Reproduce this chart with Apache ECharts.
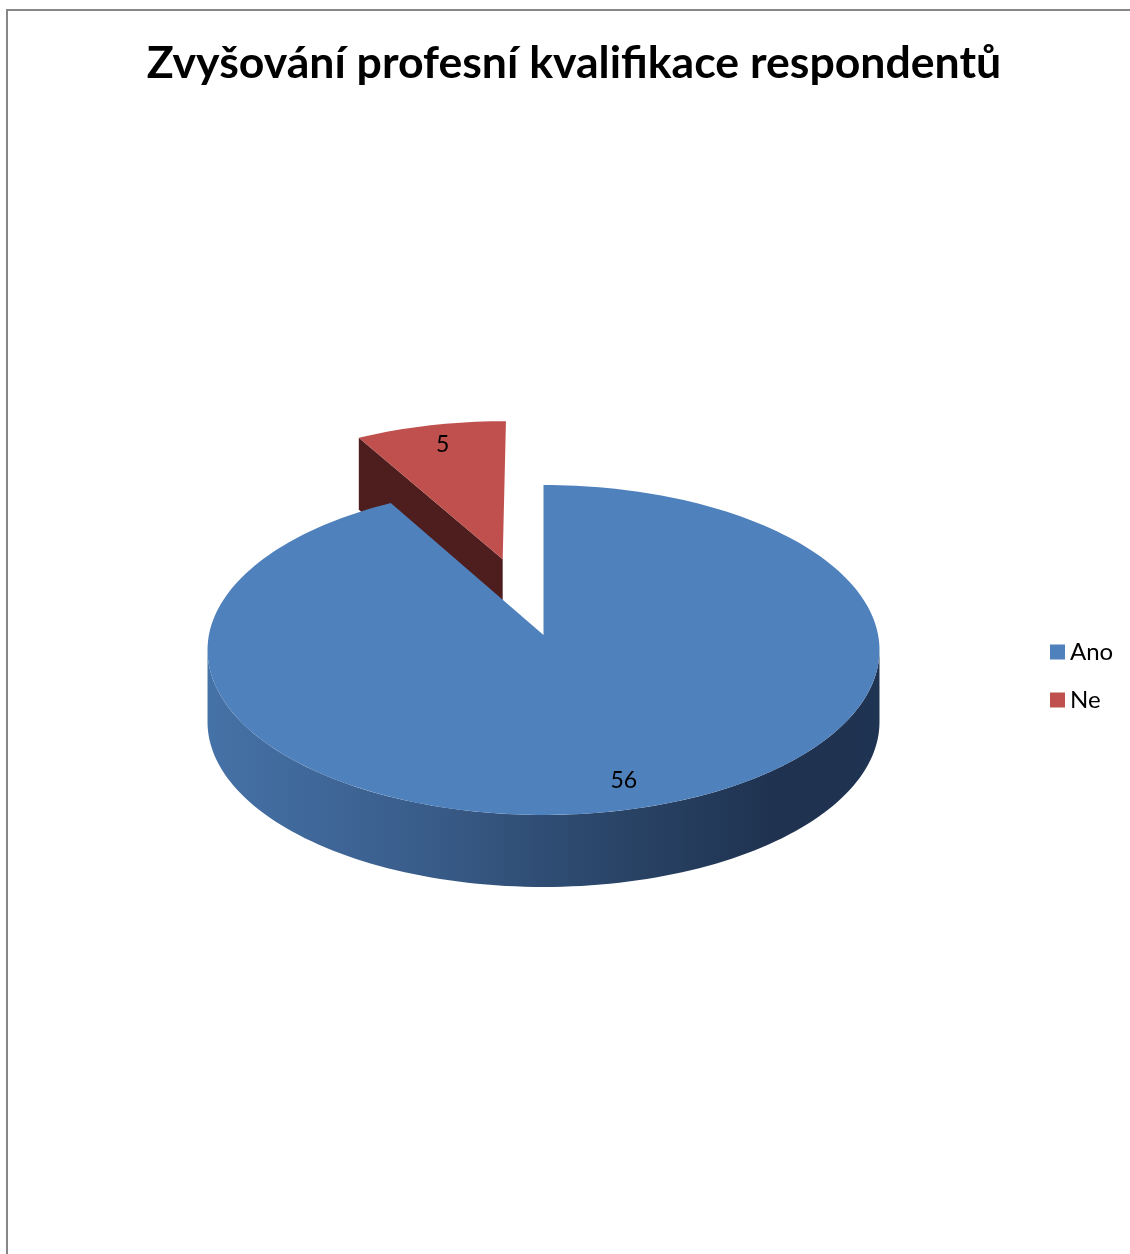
<!DOCTYPE html>
<html>
<head>
<meta charset="utf-8">
<script src="https://cdn.jsdelivr.net/npm/echarts@6/dist/echarts.min.js"></script>
<style>
  html, body { margin: 0; padding: 0; background: #ffffff; }
  #chart { width: 1130px; height: 1254px; }
</style>
</head>
<body>
<div id="chart"></div>
<script>
// Survey answers
const categories = ['Ano', 'Ne'];
const values = [56, 5];

// Appearance
const topColors = ['#4F81BD', '#C0504D'];
const cutColors = ['#24395A', '#4D1E1D'];
const wallStops = [
  [['#4572A7', 0], ['#3A5E8C', 0.3], ['#2A4568', 0.6], ['#1F3250', 0.85], ['#1F3352', 1]],
  [['#A8423F', 0], ['#6E2A28', 1]]
];
const explodeBy = [0, 0.5];      // radial offset, as a fraction of the radius
const labelRadius = 0.85;

// Tilted disk seen in perspective: unit-disk point (u, v) -> screen
const G = { cx: 543.5, cy: 635, A: 334.6, B: 163.6, e: 0.0909, depth: 72 };
const total = values.reduce((a, b) => a + b, 0);

function proj(u, v, dz) {
  const w = 1 - G.e * v;
  return [G.cx + G.A * u / w, G.cy + G.B * v / w + (dz || 0)];
}
// theta in degrees, clockwise from 12 o'clock
function diskPt(theta, r, off) {
  const t = theta * Math.PI / 180;
  return [off[0] + r * Math.sin(t), off[1] - r * Math.cos(t)];
}
function arc(a, b, off, dz) {
  const pts = [];
  const n = Math.max(2, Math.ceil(Math.abs(b - a) / 1.5));
  for (let k = 0; k <= n; k++) {
    const p = diskPt(a + (b - a) * k / n, 1, off);
    pts.push(proj(p[0], p[1], dz));
  }
  return pts;
}

// front silhouette of the cylinder wall
const sideLimit = Math.acos(-G.e) * 180 / Math.PI;   // ~95 deg
const frontFrom = sideLimit, frontTo = 360 - sideLimit;

function makeRender(i) {
  return function (params, api) {
    const val = api.value(0);
    let before = 0;
    for (let k = 0; k < i; k++) before += values[k];
    const start = before / total * 360;
    const end = start + val / total * 360;
    const mid = (start + end) / 2;
    const off = diskPt(mid, explodeBy[i], [0, 0]);
    const apex = proj(off[0], off[1], 0);
    const apexLow = proj(off[0], off[1], G.depth);
    const children = [];

    // cut face at the start edge
    if (Math.sin(start * Math.PI / 180) < -1e-6) {
      const rp = diskPt(start, 1, off);
      const rim = proj(rp[0], rp[1], 0), rimLow = proj(rp[0], rp[1], G.depth);
      children.push({ type: 'polygon', z2: 1, shape: { points: [apex, rim, rimLow, apexLow] },
        style: { fill: cutColors[i] } });
    }
    // cut face at the end edge
    if (Math.sin(end * Math.PI / 180) > 1e-6) {
      const rp = diskPt(end, 1, off);
      const rim = proj(rp[0], rp[1], 0), rimLow = proj(rp[0], rp[1], G.depth);
      children.push({ type: 'polygon', z2: 1, shape: { points: [apex, rim, rimLow, apexLow] },
        style: { fill: cutColors[i] } });
    }
    // outer wall, front part only
    const a = Math.max(start, frontFrom), b = Math.min(end, frontTo);
    if (a < b) {
      const upper = arc(a, b, off, 0);
      const lower = arc(a, b, off, G.depth).reverse();
      children.push({ type: 'polygon', z2: 2, shape: { points: upper.concat(lower) },
        style: { fill: { type: 'linear', x: 0, y: 0, x2: 1, y2: 0,
          colorStops: wallStops[i].map(s => ({ color: s[0], offset: s[1] })) } } });
    }
    // top face
    children.push({ type: 'polygon', z2: 3, shape: { points: [apex].concat(arc(start, end, off, 0)) },
      style: { fill: topColors[i] } });
    // value label
    const lp = diskPt(mid, explodeBy[i] + labelRadius, [0, 0]);
    const lxy = proj(lp[0], lp[1], 0);
    children.push({ type: 'text', z2: 4, x: lxy[0] + 2, y: lxy[1],
      style: { text: String(val), fill: '#000000', font: '23px Lato',
        align: 'center', verticalAlign: 'middle' } });
    return { type: 'group', children: children };
  };
}

const chart = echarts.init(document.getElementById('chart'), null, { renderer: 'canvas' });
chart.setOption({
  backgroundColor: '#ffffff',
  animation: false,
  color: topColors,
  title: {
    text: 'Zvyšování profesní kvalifikace respondentů',
    left: 569, top: 36, textAlign: 'center',
    textStyle: { fontFamily: 'Lato', fontWeight: 'bold', fontSize: 44.6, color: '#000000' }
  },
  legend: {
    data: categories,
    orient: 'vertical',
    left: 1045, top: 635,
    icon: 'rect', itemWidth: 15, itemHeight: 15, itemGap: 24,
    textStyle: { fontFamily: 'Lato', fontSize: 24, color: '#000000', lineHeight: 24 }
  },
  graphic: [{
    type: 'polyline', silent: true, z: -10,
    shape: { points: [[7, 1400], [7, 10], [1400, 10]] },
    style: { fill: 'none', stroke: '#878787', lineWidth: 2 }
  }],
  series: categories.map((name, i) => ({
    type: 'custom',
    name: name,
    coordinateSystem: 'none',
    z: categories.length - i,
    itemStyle: { color: topColors[i] },
    data: [values[i]],
    renderItem: makeRender(i)
  }))
});
</script>
</body>
</html>
